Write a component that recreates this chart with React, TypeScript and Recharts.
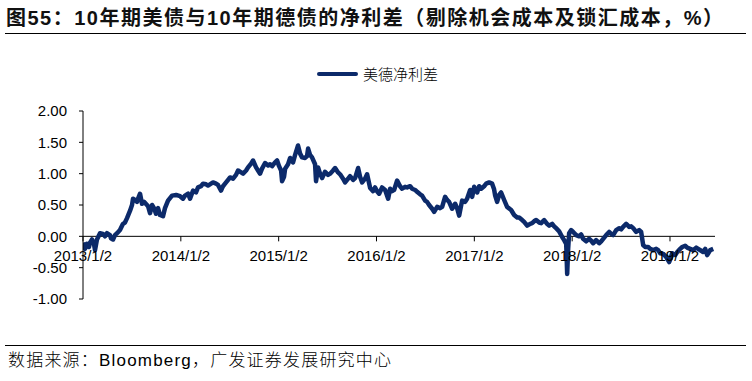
import React from 'react';
import { LineChart, Line, XAxis, YAxis, ReferenceLine } from 'recharts';

// decimal year of each reading (2013.0 = 2013/1/2)
const dates = [
  2013.0, 2013.02, 2013.041, 2013.061, 2013.072, 2013.092, 2013.112, 2013.123, 2013.143, 2013.174,
  2013.204, 2013.225, 2013.245, 2013.276, 2013.286, 2013.307, 2013.327, 2013.348, 2013.378, 2013.409,
  2013.429, 2013.45, 2013.481, 2013.501, 2013.511, 2013.532, 2013.552, 2013.562, 2013.583, 2013.603,
  2013.624, 2013.654, 2013.665, 2013.685, 2013.706, 2013.726, 2013.746, 2013.767, 2013.787, 2013.818,
  2013.838, 2013.869, 2013.91, 2013.951, 2013.992, 2014.022, 2014.043, 2014.074, 2014.094, 2014.125,
  2014.155, 2014.176, 2014.207, 2014.227, 2014.258, 2014.278, 2014.309, 2014.329, 2014.36, 2014.38,
  2014.411, 2014.431, 2014.452, 2014.483, 2014.503, 2014.534, 2014.564, 2014.585, 2014.616, 2014.636,
  2014.667, 2014.687, 2014.718, 2014.738, 2014.769, 2014.789, 2014.81, 2014.83, 2014.861, 2014.892,
  2014.912, 2014.933, 2014.963, 2014.984, 2015.004, 2015.025, 2015.035, 2015.055, 2015.066, 2015.096,
  2015.117, 2015.147, 2015.168, 2015.198, 2015.219, 2015.239, 2015.27, 2015.29, 2015.301, 2015.321,
  2015.341, 2015.372, 2015.382, 2015.403, 2015.423, 2015.444, 2015.474, 2015.505, 2015.526, 2015.556,
  2015.577, 2015.607, 2015.628, 2015.658, 2015.679, 2015.71, 2015.73, 2015.761, 2015.781, 2015.812,
  2015.832, 2015.853, 2015.883, 2015.904, 2015.935, 2015.965, 2015.986, 2016.006, 2016.027, 2016.057,
  2016.088, 2016.119, 2016.139, 2016.16, 2016.18, 2016.211, 2016.241, 2016.262, 2016.292, 2016.313,
  2016.344, 2016.364, 2016.395, 2016.415, 2016.446, 2016.466, 2016.497, 2016.517, 2016.538, 2016.569,
  2016.589, 2016.62, 2016.65, 2016.671, 2016.701, 2016.722, 2016.742, 2016.773, 2016.804, 2016.824,
  2016.845, 2016.875, 2016.906, 2016.926, 2016.957, 2016.978, 2016.998, 2017.029, 2017.049, 2017.07,
  2017.1, 2017.121, 2017.151, 2017.182, 2017.202, 2017.213, 2017.233, 2017.254, 2017.274, 2017.305,
  2017.335, 2017.376, 2017.407, 2017.438, 2017.458, 2017.489, 2017.509, 2017.54, 2017.571, 2017.591,
  2017.611, 2017.632, 2017.663, 2017.683, 2017.714, 2017.744, 2017.765, 2017.796, 2017.816, 2017.836,
  2017.867, 2017.898, 2017.918, 2017.939, 2017.949, 2017.959, 2017.969, 2017.99, 2018.01, 2018.041,
  2018.072, 2018.092, 2018.112, 2018.143, 2018.174, 2018.194, 2018.215, 2018.245, 2018.276, 2018.297,
  2018.317, 2018.348, 2018.378, 2018.399, 2018.419, 2018.45, 2018.481, 2018.501, 2018.521, 2018.552,
  2018.583, 2018.603, 2018.624, 2018.654, 2018.685, 2018.705, 2018.726, 2018.746, 2018.777, 2018.798,
  2018.828, 2018.859, 2018.879, 2018.9, 2018.931, 2018.961, 2018.992, 2019.002, 2019.022, 2019.053,
  2019.074, 2019.104, 2019.125, 2019.155, 2019.176, 2019.206, 2019.237, 2019.268, 2019.288, 2019.319,
  2019.339, 2019.36, 2019.38, 2019.411, 2019.442,
];

// 美德净利差 (%)
const spread = [
  -0.1, -0.2, -0.12, -0.17, -0.1, -0.05, -0.12, -0.22, -0.05, 0.05,
  0.04, 0.0, 0.05, 0.02, -0.03, -0.05, 0.02, 0.05, 0.1, 0.2,
  0.22, 0.29, 0.41, 0.5, 0.6, 0.58, 0.55, 0.6, 0.68, 0.52,
  0.55, 0.5, 0.48, 0.37, 0.5, 0.45, 0.36, 0.45, 0.34, 0.32,
  0.45, 0.57, 0.65, 0.66, 0.64, 0.6, 0.65, 0.68, 0.6, 0.73,
  0.7, 0.78, 0.8, 0.84, 0.83, 0.81, 0.84, 0.86, 0.84, 0.82,
  0.73, 0.8, 0.84, 0.9, 0.94, 0.92, 0.98, 1.05, 1.02, 1.0,
  1.05, 1.1, 1.16, 1.21, 1.1, 1.05, 1.0, 1.08, 1.17, 1.13,
  1.15, 1.12, 1.18, 1.21, 1.12, 1.05, 0.88, 0.95, 1.08, 1.15,
  1.25, 1.18, 1.3, 1.45, 1.32, 1.26, 1.25, 1.28, 1.4, 1.3,
  1.26, 1.15, 0.88, 1.1, 1.0, 0.93, 1.03, 0.98, 1.0, 1.05,
  1.09, 1.02, 0.99, 0.92, 0.86, 0.92, 0.96, 0.9, 0.93, 1.09,
  0.95, 0.86, 0.92, 0.99, 0.77, 0.72, 0.78, 0.72, 0.68, 0.78,
  0.74, 0.6, 0.76, 0.72, 0.74, 0.89, 0.8, 0.76, 0.79, 0.78,
  0.8, 0.76, 0.74, 0.71, 0.67, 0.65, 0.57, 0.55, 0.5, 0.44,
  0.39, 0.47, 0.45, 0.47, 0.63, 0.58, 0.55, 0.44, 0.52, 0.45,
  0.33, 0.57, 0.55, 0.6, 0.74, 0.63, 0.79, 0.7, 0.8, 0.76,
  0.8, 0.84, 0.86, 0.84, 0.75, 0.65, 0.55, 0.66, 0.7, 0.58,
  0.47, 0.42, 0.34, 0.3, 0.3, 0.26, 0.23, 0.17, 0.2, 0.21,
  0.24, 0.26, 0.22, 0.21, 0.26, 0.2, 0.17, 0.2, 0.16, 0.13,
  0.08, -0.01, -0.06, -0.12, -0.6, -0.2, 0.05, 0.1, 0.07, 0.02,
  0.0, 0.03, -0.04, -0.08, -0.04, -0.07, -0.11, -0.06, -0.11, -0.08,
  -0.04, 0.02, 0.07, 0.04, 0.02, 0.1, 0.13, 0.11, 0.15, 0.2,
  0.15, 0.16, 0.13, 0.07, 0.1, 0.07, -0.14, -0.17, -0.17, -0.2,
  -0.22, -0.2, -0.22, -0.27, -0.28, -0.33, -0.41, -0.37, -0.27, -0.3,
  -0.25, -0.2, -0.17, -0.15, -0.18, -0.2, -0.22, -0.18, -0.2, -0.23,
  -0.25, -0.2, -0.3, -0.22, -0.2,
];

const yearTicks = [2013, 2014, 2015, 2016, 2017, 2018, 2019];
const yTicks = [-1, -0.5, 0, 0.5, 1, 1.5, 2];

const data = dates.map((t, i) => ({ t, v: spread[i] }));

const NAVY = '#0c2a6a';
const FONT = '"Liberation Sans", Arial, "Noto Sans CJK SC", sans-serif';

export default function App() {
  return (
    <div
      style={{
        position: 'absolute',
        left: 0,
        top: 0,
        width: 752,
        height: 381,
        background: '#fff',
        fontFamily: FONT,
        color: '#000',
        overflow: 'hidden',
      }}
    >
      <div
        style={{
          position: 'absolute',
          left: 6,
          top: 6,
          fontSize: 20,
          fontWeight: 'bold',
          whiteSpace: 'nowrap',
          lineHeight: '24px',
          letterSpacing: 1.5,
          color: '#111',
        }}
      >
        图55：10年期美债与10年期德债的净利差（剔除机会成本及锁汇成本，%）
      </div>
      <div style={{ position: 'absolute', left: 5, top: 33, width: 741, height: 1, background: '#000' }} />

      {/* legend */}
      <div style={{ position: 'absolute', left: 317, top: 64, display: 'flex', alignItems: 'center' }}>
        <div style={{ width: 41, height: 4, background: NAVY, borderRadius: 2 }} />
        <span style={{ marginLeft: 5, fontSize: 15, fontFamily: '"Noto Sans CJK SC"', fontWeight: 300, lineHeight: '20px' }}>
          美德净利差
        </span>
      </div>

      <div style={{ position: 'absolute', left: 0, top: 0 }}>
        <LineChart width={752} height={381} data={data} margin={{ top: 111, right: 37, bottom: 82, left: 23 }}>
          <XAxis type="number" dataKey="t" domain={[2013, 2019.46]} allowDataOverflow hide />
          <YAxis
            domain={[-1, 2]}
            ticks={yTicks}
            width={60}
            tickFormatter={(v: number) => v.toFixed(2)}
            axisLine={{ stroke: '#000' }}
            tickLine={{ stroke: '#000' }}
            tickSize={4}
            tickMargin={12}
            tick={{ fill: '#000', fontSize: 15 }}
            allowDataOverflow
          />
          <ReferenceLine y={0} stroke="#000" />
          {yearTicks.map((yr) => (
            <ReferenceLine
              key={yr}
              segment={[{ x: yr, y: 0 }, { x: yr, y: -0.08 }]}
              stroke="#000"
              label={{ value: `${yr}/1/2`, position: 'bottom', offset: 9, fill: '#000', fontSize: 15 }}
            />
          ))}
          <Line
            type="linear"
            dataKey="v"
            stroke={NAVY}
            strokeWidth={4.5}
            strokeLinejoin="round"
            dot={false}
            isAnimationActive={false}
          />
        </LineChart>
      </div>

      <div style={{ position: 'absolute', left: 5, top: 345, width: 741, height: 1, background: '#000' }} />
      <div
        style={{
          position: 'absolute',
          left: 8,
          top: 350,
          fontSize: 17,
          whiteSpace: 'nowrap',
          lineHeight: '22px',
          fontWeight: 300,
          letterSpacing: 1.2,
        }}
      >
        数据来源：Bloomberg，广发证券发展研究中心
      </div>
    </div>
  );
}
